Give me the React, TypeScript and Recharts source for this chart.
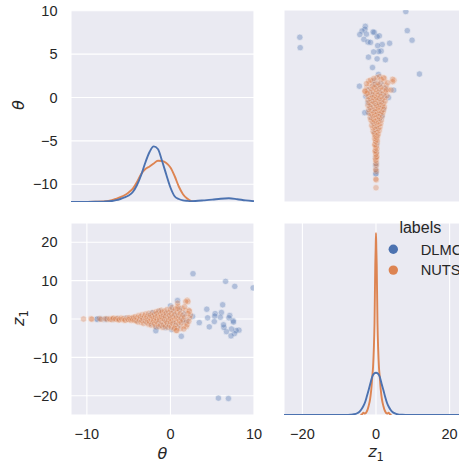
import React from 'react';
import { ComposedChart, Scatter, Line, XAxis, YAxis, CartesianGrid, Legend } from 'recharts';

const hueOrder = ['DLMC', 'NUTS'];
const hueColors: Record<string, string> = { DLMC: '#4C72B0', NUTS: '#DD8452' };

const thetaColTicks = [-10, 0, 10];
const thetaRowTicks = [-10, -5, 0, 5, 10];
const z1ColTicks = [-20, 0, 20];
const z1RowTicks = [-20, -10, 0, 10, 20];
const thetaColDomain: [number, number] = [-11.9, 10];
const thetaRowDomain: [number, number] = [-12.04, 10.08];
const z1Domain: [number, number] = [-25, 25];
const thetaDensityMax = 0.48;
const z1DensityMax = 0.192;

// samples: [theta, z1]
const dlmcPoints: [number, number][] = [
  [6.94, -20.7], [5.74, -20.6], [9.9, 8.1], [7.7, 8.5], [6.6, 9.8], [2.7, 11.8],
  [6.25, 3.7], [6.1, 1.7], [7.1, 0.9], [7.0, 0.3], [7.5, -0.45], [7.55, -0.8],
  [8.2, -2.9], [7.86, -3.0], [7.66, -3.8], [7.25, -4.4], [7.3, -2.6], [6.7, -3.3],
  [6.4, -2.2], [6.35, -1.5], [5.97, 0.45], [5.35, 1.4], [5.3, 0.75], [5.25, -0.65],
  [4.65, -2.05], [4.45, 0.3], [4.35, 2.55], [3.45, -0.95], [2.65, 0.65], [1.95, -0.45],
  [1.3, -4.5], [0.85, 4.8], [0.15, -2.75], [-0.6, -2.2], [-1.75, -3.05],
  [1.5, -0.6], [1.6, 1.3], [1.1, 2.6], [0.0, 3.4], [1.2, 0.3], [0.9, -1.9], [0.6, 1.0],
  [0.4, -1.0], [0.2, 2.2], [-0.1, 0.5], [-0.3, -1.3], [-0.5, 1.6], [-0.7, -0.3],
  [-0.9, 0.7], [-1.1, -1.6], [-1.3, 2.0], [-1.5, -0.5], [-1.7, -2.2], [-1.8, 1.4],
  [-2.0, 0.4], [-2.2, 1.6], [-2.3, -1.2], [-2.6, 0.9], [-3.0, -0.6], [-3.5, 0.2],
  [-4.0, -0.3], [-4.5, 0.1], [-5.0, 0.05], [-5.4, 0.2], [-6.3, 0.05], [-6.9, -0.05],
  [-7.6, 0.1], [-7.8, -0.1], [-8.35, 0.05], [-8.7, 0.0], [-8.8, -0.05],
];

const nutsPoints: [number, number][] = [
  [-10.4, 0.0], [-9.5, 0.05], [-9.4, -0.05], [-8.5, 0.1], [-8.3, -0.1], [-7.8, 0.1],
  [-7.6, -0.05], [-7.3, 0.05], [-7.2, -0.1], [-7.0, -0.15], [-6.9, 0.15], [-6.8, 0.2],
  [-6.6, -0.1], [-6.5, 0.05], [-6.3, 0.15], [-6.2, -0.25], [-6.1, -0.2], [-5.9, 0.25],
  [-5.8, -0.05], [-5.6, 0.1], [-5.5, -0.3], [-5.4, -0.3], [-5.2, 0.3], [-5.1, -0.1],
  [-5.0, -0.15], [-4.9, 0.35], [-4.8, 0.05], [-4.7, -0.4], [-4.6, 0.2], [-4.5, -0.2],
  [-4.4, 0.45], [-4.3, -0.35], [-4.2, 0.6], [-4.1, -0.5],
  [-4.0, 0.3], [-3.9, -0.8], [-3.8, 0.9], [-3.7, -0.2], [-3.6, 0.6], [-3.5, -0.9],
  [-3.4, 1.1], [-3.4, -0.4], [-3.3, 0.2], [-3.2, -1.2], [-3.1, 0.8], [-3.0, -0.5],
  [-3.0, 1.3], [-2.9, 0.1], [-2.8, -1.0], [-2.8, 0.6], [-2.7, -0.3], [-2.6, 1.5],
  [-2.6, -1.4], [-2.5, 0.4], [-2.5, -0.7], [-2.4, 1.0], [-2.3, -0.1], [-2.3, -1.6],
  [-2.2, 0.7], [-2.1, -0.9], [-2.1, 1.7], [-2.0, 0.2], [-2.0, -0.4],
  [-1.9, 1.2], [-1.9, -1.3], [-1.8, 0.5], [-1.8, -1.9], [-1.7, 1.9], [-1.7, -0.6],
  [-1.6, 0.0], [-1.6, 1.5], [-1.5, -1.1], [-1.5, 0.8], [-1.4, -2.0], [-1.4, 2.1],
  [-1.3, 0.3], [-1.3, -0.3], [-1.2, 1.3], [-1.2, -1.6], [-1.1, 0.6], [-1.1, 2.3],
  [-1.0, -0.8], [-1.0, 1.8], [-0.9, -2.2], [-0.9, 0.1], [-0.8, 1.0], [-0.8, -1.4],
  [-0.7, 2.1], [-0.7, -0.2], [-0.6, 0.7], [-0.6, -1.9], [-0.5, 1.5], [-0.5, -0.6],
  [-0.4, 2.5], [-0.4, -1.0], [-0.3, 0.4], [-0.3, -2.2], [-0.2, 1.7], [-0.2, -0.3],
  [-0.1, 0.9], [-0.1, -1.6], [0.0, 2.4], [0.0, -0.8], [0.0, 0.2],
  [0.1, 1.4], [0.1, -2.1], [0.2, -0.4], [0.2, 3.0], [0.3, 0.6], [0.3, -1.2],
  [0.4, 2.0], [0.4, -2.6], [0.5, -0.1], [0.5, 1.1], [0.6, -1.7], [0.6, 2.6],
  [0.7, 0.3], [0.7, -0.9], [0.8, 1.7], [0.8, -2.3], [0.9, 0.0], [0.9, 3.3],
  [1.0, -1.3], [1.0, 0.9], [1.1, 2.2], [1.1, -0.5], [1.2, -2.5], [1.2, 1.4],
  [1.3, 0.2], [1.3, -1.0], [1.4, 2.8], [1.5, -0.3], [1.5, 1.0], [1.6, -1.8],
  [1.7, 0.5], [1.8, 2.2], [1.9, -0.8], [2.0, 4.9], [2.1, 4.5], [2.2, 2.3],
  [1.9, -2.0], [2.4, 1.0], [2.0, -1.5], [0.78, -3.0], [0.86, 2.8], [0.86, 4.1],
  [0.5, -2.35], [0.7, -3.0], [2.28, 2.05], [2.3, 0.3], [2.2, -0.6], [2.1, 1.4],
  [1.82, 4.5], [1.7, 3.2], [1.6, -2.6],
];

// diagonal KDE curves
const thetaKdeGrid = [-11.9, -10, -9, -8, -7, -6.5, -6, -5.5, -5, -4.5, -4, -3.5, -3, -2.5, -2, -1.5, -1, -0.5, 0, 0.5, 1, 1.5, 2, 2.5, 3, 4, 5, 6, 7, 8, 9, 10];
const dlmcThetaDensity = [0, 0.0003, 0.0005, 0.001, 0.0025, 0.0045, 0.0075, 0.0113, 0.0163, 0.025, 0.0425, 0.0675, 0.0988, 0.125, 0.139, 0.1325, 0.1025, 0.0688, 0.0363, 0.0145, 0.0075, 0.004, 0.0028, 0.0023, 0.0025, 0.004, 0.0058, 0.0083, 0.0093, 0.007, 0.004, 0.002];
const nutsThetaDensity = [0, 0.0003, 0.0008, 0.0015, 0.0045, 0.008, 0.012, 0.0168, 0.0238, 0.0335, 0.05, 0.07, 0.0825, 0.0888, 0.0963, 0.1033, 0.1025, 0.0975, 0.0863, 0.065, 0.0388, 0.0195, 0.0085, 0.002, 0];

const dlmcZ1Grid = [-25, -12, -8, -7, -6, -5, -4.5, -4, -3.5, -3, -2.5, -2, -1.5, -1, -0.5, 0, 0.5, 1, 1.5, 2, 2.5, 3, 3.5, 4, 4.5, 5, 6, 7, 8, 12, 25];
const dlmcZ1Density = [0, 0, 0.0001, 0.0003, 0.0007, 0.002, 0.0032, 0.0055, 0.0085, 0.0125, 0.0185, 0.025, 0.032, 0.0385, 0.0415, 0.0423, 0.0415, 0.0385, 0.0315, 0.025, 0.018, 0.012, 0.008, 0.005, 0.003, 0.0018, 0.0006, 0.0003, 0.0001, 0, 0];
const nutsZ1Grid = [-4.2, -3.8, -3.4, -3.0, -2.5, -2.0, -1.6, -1.3, -1.0, -0.8, -0.6, -0.4, -0.2, -0.1, 0, 0.1, 0.2, 0.4, 0.6, 0.8, 1.0, 1.3, 1.6, 2.0, 2.5, 3.0, 3.4, 3.8, 4.2];
const nutsZ1Density = [0, 0.0008, 0.0022, 0.0015, 0.0035, 0.009, 0.016, 0.025, 0.039, 0.048, 0.065, 0.092, 0.15, 0.165, 0.182, 0.165, 0.15, 0.092, 0.065, 0.048, 0.039, 0.025, 0.016, 0.009, 0.0035, 0.0015, 0.0022, 0.0008, 0];

const zipCurve = (grid: number[], dens: number[]) => dens.map((d, i) => ({ x: grid[i], d }));

const BG = '#EAEAF2';
const TEXT = '#262626';
const TICK_FONT = 'Liberation Sans, Arial, sans-serif';
const tickStyle = { fill: TEXT, fontSize: 14.5, fontFamily: TICK_FONT };
const fmt = (v: number) => String(v).replace('-', '\u2212');

const dot = (color: string) => (props: any) => {
  const { cx, cy } = props;
  if (cx == null || cy == null) return <g />;
  return <circle cx={cx} cy={cy} r={3.2} fill={color} stroke="#ffffff" strokeWidth={0.6} opacity={0.36} />;
};

function SymbolText({ sym }: { sym: string }) {
  if (sym === 'theta') return <tspan fontStyle="italic">θ</tspan>;
  return (
    <>
      <tspan fontStyle="italic">z</tspan>
      <tspan fontSize={11.5} dy={3.5}>1</tspan>
    </>
  );
}

function YTitle(props: any) {
  const { viewBox, sym } = props;
  const x = 24;
  const y = viewBox.y + viewBox.height / 2 - 1;
  return (
    <text x={x} y={y} transform={`rotate(-90 ${x} ${y})`} textAnchor="middle" fill={TEXT} fontFamily="DejaVu Sans" fontSize={16}>
      <SymbolText sym={sym} />
    </text>
  );
}

function XTitle(props: any) {
  const { viewBox, sym } = props;
  const x = viewBox.x + viewBox.width / 2;
  const y = viewBox.y + (sym === 'theta' ? 44 : 42);
  return (
    <text x={x} y={y} textAnchor="middle" fill={TEXT} fontFamily="DejaVu Sans" fontSize={16}>
      <SymbolText sym={sym} />
    </text>
  );
}

function HueLegend(props: any) {
  const payload = [...(props.payload || [])].sort(
    (a: any, b: any) => hueOrder.indexOf(a.value) - hueOrder.indexOf(b.value)
  );
  return (
    <svg width={100} height={72} style={{ overflow: 'visible', display: 'block' }}>
      <text x={40.3} y={21.7} textAnchor="middle" fill={TEXT} fontFamily={TICK_FONT} fontSize={16}>labels</text>
      {payload.map((p: any, i: number) => (
        <g key={p.value}>
          <circle cx={13.3} cy={38.3 + i * 20.8} r={4.7} fill={p.color} />
          <text x={40.7} y={43.6 + i * 20.8} fill={TEXT} fontFamily={TICK_FONT} fontSize={14.67}>{p.value}</text>
        </g>
      ))}
    </svg>
  );
}

const gridProps = { fill: BG, stroke: '#ffffff', strokeWidth: 1.1 };
const hiddenAxis = { tick: false, axisLine: false, tickLine: false } as const;

export default function App() {
  const dlmcTR = dlmcPoints.map(([t, z]) => ({ x: z, y: t }));
  const nutsTR = nutsPoints.map(([t, z]) => ({ x: z, y: t }));
  const dlmcBL = dlmcPoints.map(([t, z]) => ({ x: t, y: z }));
  const nutsBL = nutsPoints.map(([t, z]) => ({ x: t, y: z }));

  return (
    <div style={{ position: 'absolute', left: 0, top: 0, width: 459, height: 463, overflow: 'hidden', background: '#fff' }}>
      {/* theta diagonal */}
      <div style={{ position: 'absolute', left: 0, top: 0 }}>
        <ComposedChart width={254} height={202} margin={{ top: 10, right: 0, bottom: 0, left: 0 }}>
          <CartesianGrid yAxisId="row" {...gridProps} />
          <XAxis type="number" dataKey="x" domain={thetaColDomain} ticks={thetaColTicks} height={0} allowDataOverflow {...hiddenAxis} />
          <YAxis yAxisId="row" type="number" domain={thetaRowDomain} ticks={thetaRowTicks} width={71} allowDataOverflow
            axisLine={false} tickLine={false} tickSize={0} tickMargin={13.5} tick={tickStyle} tickFormatter={fmt} interval={0}
            label={<YTitle sym="theta" />} />
          <YAxis yAxisId="dens" orientation="right" type="number" domain={[0, thetaDensityMax]} hide allowDataOverflow />
          <Line yAxisId="dens" name="NUTS" data={zipCurve(thetaKdeGrid, nutsThetaDensity)} dataKey="d" type="monotone"
            stroke={hueColors.NUTS} strokeWidth={1.9} dot={false} isAnimationActive={false} />
          <Line yAxisId="dens" name="DLMC" data={zipCurve(thetaKdeGrid, dlmcThetaDensity)} dataKey="d" type="monotone"
            stroke={hueColors.DLMC} strokeWidth={1.9} dot={false} isAnimationActive={false} />
        </ComposedChart>
      </div>

      {/* theta vs z1 (top right) */}
      <div style={{ position: 'absolute', left: 284, top: 0 }}>
        <ComposedChart width={184} height={202} margin={{ top: 10, right: 0, bottom: 0, left: 0 }}>
          <CartesianGrid {...gridProps} />
          <XAxis type="number" dataKey="x" domain={z1Domain} ticks={z1ColTicks} height={0} allowDataOverflow {...hiddenAxis} />
          <YAxis type="number" dataKey="y" domain={thetaRowDomain} ticks={thetaRowTicks} width={0} allowDataOverflow {...hiddenAxis} />
          <Scatter name="DLMC" data={dlmcTR} shape={dot(hueColors.DLMC)} isAnimationActive={false} />
          <Scatter name="NUTS" data={nutsTR} shape={dot(hueColors.NUTS)} isAnimationActive={false} />
        </ComposedChart>
      </div>

      {/* z1 vs theta (bottom left) */}
      <div style={{ position: 'absolute', left: 0, top: 223 }}>
        <ComposedChart width={284} height={240} margin={{ top: 0, right: 30, bottom: 0, left: 0 }}>
          <CartesianGrid {...gridProps} />
          <XAxis type="number" dataKey="x" domain={thetaColDomain} ticks={thetaColTicks} height={48} allowDataOverflow
            axisLine={false} tickLine={false} tickSize={0} tickMargin={14} tick={tickStyle} tickFormatter={fmt} interval={0}
            label={<XTitle sym="theta" />} />
          <YAxis type="number" dataKey="y" domain={z1Domain} ticks={z1RowTicks} width={71} allowDataOverflow
            axisLine={false} tickLine={false} tickSize={0} tickMargin={13.5} tick={tickStyle} tickFormatter={fmt} interval={0}
            label={<YTitle sym="z1" />} />
          <Scatter name="DLMC" data={dlmcBL} shape={dot(hueColors.DLMC)} isAnimationActive={false} />
          <Scatter name="NUTS" data={nutsBL} shape={dot(hueColors.NUTS)} isAnimationActive={false} />
        </ComposedChart>
      </div>

      {/* z1 diagonal */}
      <div style={{ position: 'absolute', left: 284, top: 211 }}>
        <ComposedChart width={184} height={252} margin={{ top: 12, right: 0, bottom: 0, left: 0 }}>
          <CartesianGrid yAxisId="row" {...gridProps} />
          <XAxis type="number" dataKey="x" domain={z1Domain} ticks={z1ColTicks} height={48} allowDataOverflow
            axisLine={false} tickLine={false} tickSize={0} tickMargin={14} tick={tickStyle} tickFormatter={fmt} interval={0}
            label={<XTitle sym="z1" />} />
          <YAxis yAxisId="row" type="number" domain={z1Domain} ticks={z1RowTicks} width={0} allowDataOverflow {...hiddenAxis} />
          <YAxis yAxisId="dens" orientation="right" type="number" domain={[0, z1DensityMax]} hide allowDataOverflow />
          <Line yAxisId="dens" name="NUTS" data={zipCurve(nutsZ1Grid, nutsZ1Density)} dataKey="d" type="monotone"
            stroke={hueColors.NUTS} strokeWidth={1.9} dot={false} isAnimationActive={false} />
          <Line yAxisId="dens" name="DLMC" data={zipCurve(dlmcZ1Grid, dlmcZ1Density)} dataKey="d" type="monotone"
            stroke={hueColors.DLMC} strokeWidth={1.9} dot={false} isAnimationActive={false} />
          <Legend layout="vertical" align="center" verticalAlign="middle" content={<HueLegend />}
            wrapperStyle={{ left: 96, top: 0, width: 100 }} />
        </ComposedChart>
      </div>
    </div>
  );
}
